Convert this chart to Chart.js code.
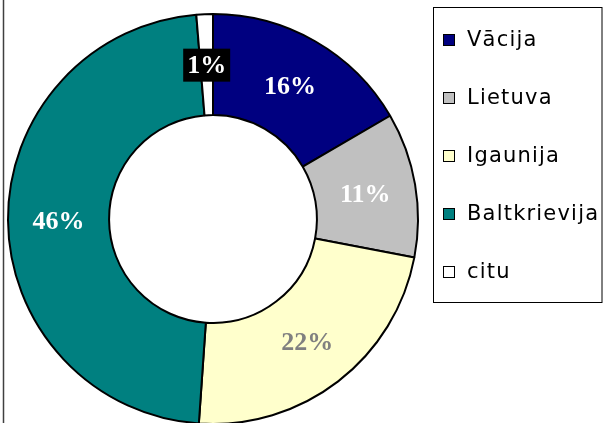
<!DOCTYPE html>
<html>
<head>
<meta charset="utf-8">
<script src="https://cdn.jsdelivr.net/npm/chart.js@4.4.1/dist/chart.umd.min.js"></script>
<style>
html, body { margin:0; padding:0; background:#fff; overflow:hidden; }
#wrap { position:relative; width:604px; height:430px; }
</style>
</head>
<body>
<div id="wrap"><canvas id="chart" width="604" height="430"></canvas></div>
<script>
"use strict";

// shares; the printed labels are the source's own rounding
var LABELS = ["Vācija", "Lietuva", "Igaunija", "Baltkrievija", "citu"];
var SHARES = [16.6, 11.4, 23.1, 47.6, 1.3];
var PCT_TEXT = ["16%", "11%", "22%", "46%", "1%"];
var COLORS = ["#000080", "#c0c0c0", "#ffffcc", "#008080", "#ffffff"];
var TEXT_COLORS = ["#ffffff", "#ffffff", "#808080", "#ffffff", "#ffffff"];

var LEGEND_FONT = "21px 'DejaVu Sans', Verdana, sans-serif";
var VALUE_FONT = "bold 26px 'Liberation Serif', 'Times New Roman', serif";

// white page + the plot frame's left edge
var framePlugin = {
  id: "frame",
  beforeDraw: function(chart) {
    var ctx = chart.ctx;
    ctx.save();
    ctx.fillStyle = "#ffffff";
    ctx.fillRect(0, 0, chart.width, chart.height);
    ctx.strokeStyle = "#404040";
    ctx.lineWidth = 1.5;
    ctx.beginPath();
    ctx.moveTo(3.5, 0);
    ctx.lineTo(3.5, chart.height);
    ctx.stroke();
    ctx.restore();
  }
};

// percentage labels in the middle of each ring segment
var valueLabels = {
  id: "valueLabels",
  afterDatasetsDraw: function(chart) {
    var ctx = chart.ctx;
    var arcs = chart.getDatasetMeta(0).data;
    ctx.save();
    ctx.font = VALUE_FONT;
    ctx.textAlign = "center";
    ctx.textBaseline = "middle";
    for (var i = 0; i < arcs.length; i++) {
      var p = arcs[i].tooltipPosition();
      var txt = PCT_TEXT[i];
      if (i === 4) {
        // tiny slice gets a black tag like the original
        var w = ctx.measureText(txt).width;
        ctx.fillStyle = "#000000";
        ctx.fillRect(p.x - w / 2 - 4, p.y - 16, w + 8, 33);
      }
      ctx.fillStyle = TEXT_COLORS[i];
      ctx.fillText(txt, p.x, p.y + 2);
    }
    ctx.restore();
  }
};

// boxed legend on the right
var boxLegend = {
  id: "boxLegend",
  afterDraw: function(chart) {
    var ctx = chart.ctx;
    var ds = chart.data.datasets[0];
    var left = chart.chartArea.right + 14;
    var right = chart.width - 2.5;
    var top = 7.5, bottom = 302.5;
    var firstY = 40, step = 58;
    ctx.save();
    ctx.strokeStyle = "#000000";
    ctx.lineWidth = 1;
    ctx.strokeRect(left + 0.5, top, right - left, bottom - top);
    ctx.font = LEGEND_FONT;
    ctx.textAlign = "left";
    ctx.textBaseline = "middle";
    if ("letterSpacing" in ctx) ctx.letterSpacing = "1.2px";
    for (var i = 0; i < chart.data.labels.length; i++) {
      var y = firstY + i * step;
      ctx.fillStyle = ds.backgroundColor[i];
      ctx.fillRect(left + 10.5, y - 5.5, 11, 11);
      ctx.strokeRect(left + 10.5, y - 5.5, 11, 11);
      ctx.fillStyle = "#000000";
      ctx.fillText(chart.data.labels[i], left + 34, y + 1);
    }
    ctx.restore();
  }
};

new Chart(document.getElementById("chart").getContext("2d"), {
  type: "doughnut",
  data: {
    labels: LABELS,
    datasets: [{
      data: SHARES,
      backgroundColor: COLORS,
      borderColor: "#000000",
      borderWidth: 2,
      hoverOffset: 0
    }]
  },
  options: {
    responsive: false,
    animation: false,
    cutout: "50.7%",
    rotation: 0,
    layout: { padding: { left: 7, top: 13, right: 185, bottom: 5 } },
    plugins: {
      legend: { display: false },
      tooltip: { enabled: false }
    }
  },
  plugins: [framePlugin, valueLabels, boxLegend]
});
</script>
</body>
</html>
